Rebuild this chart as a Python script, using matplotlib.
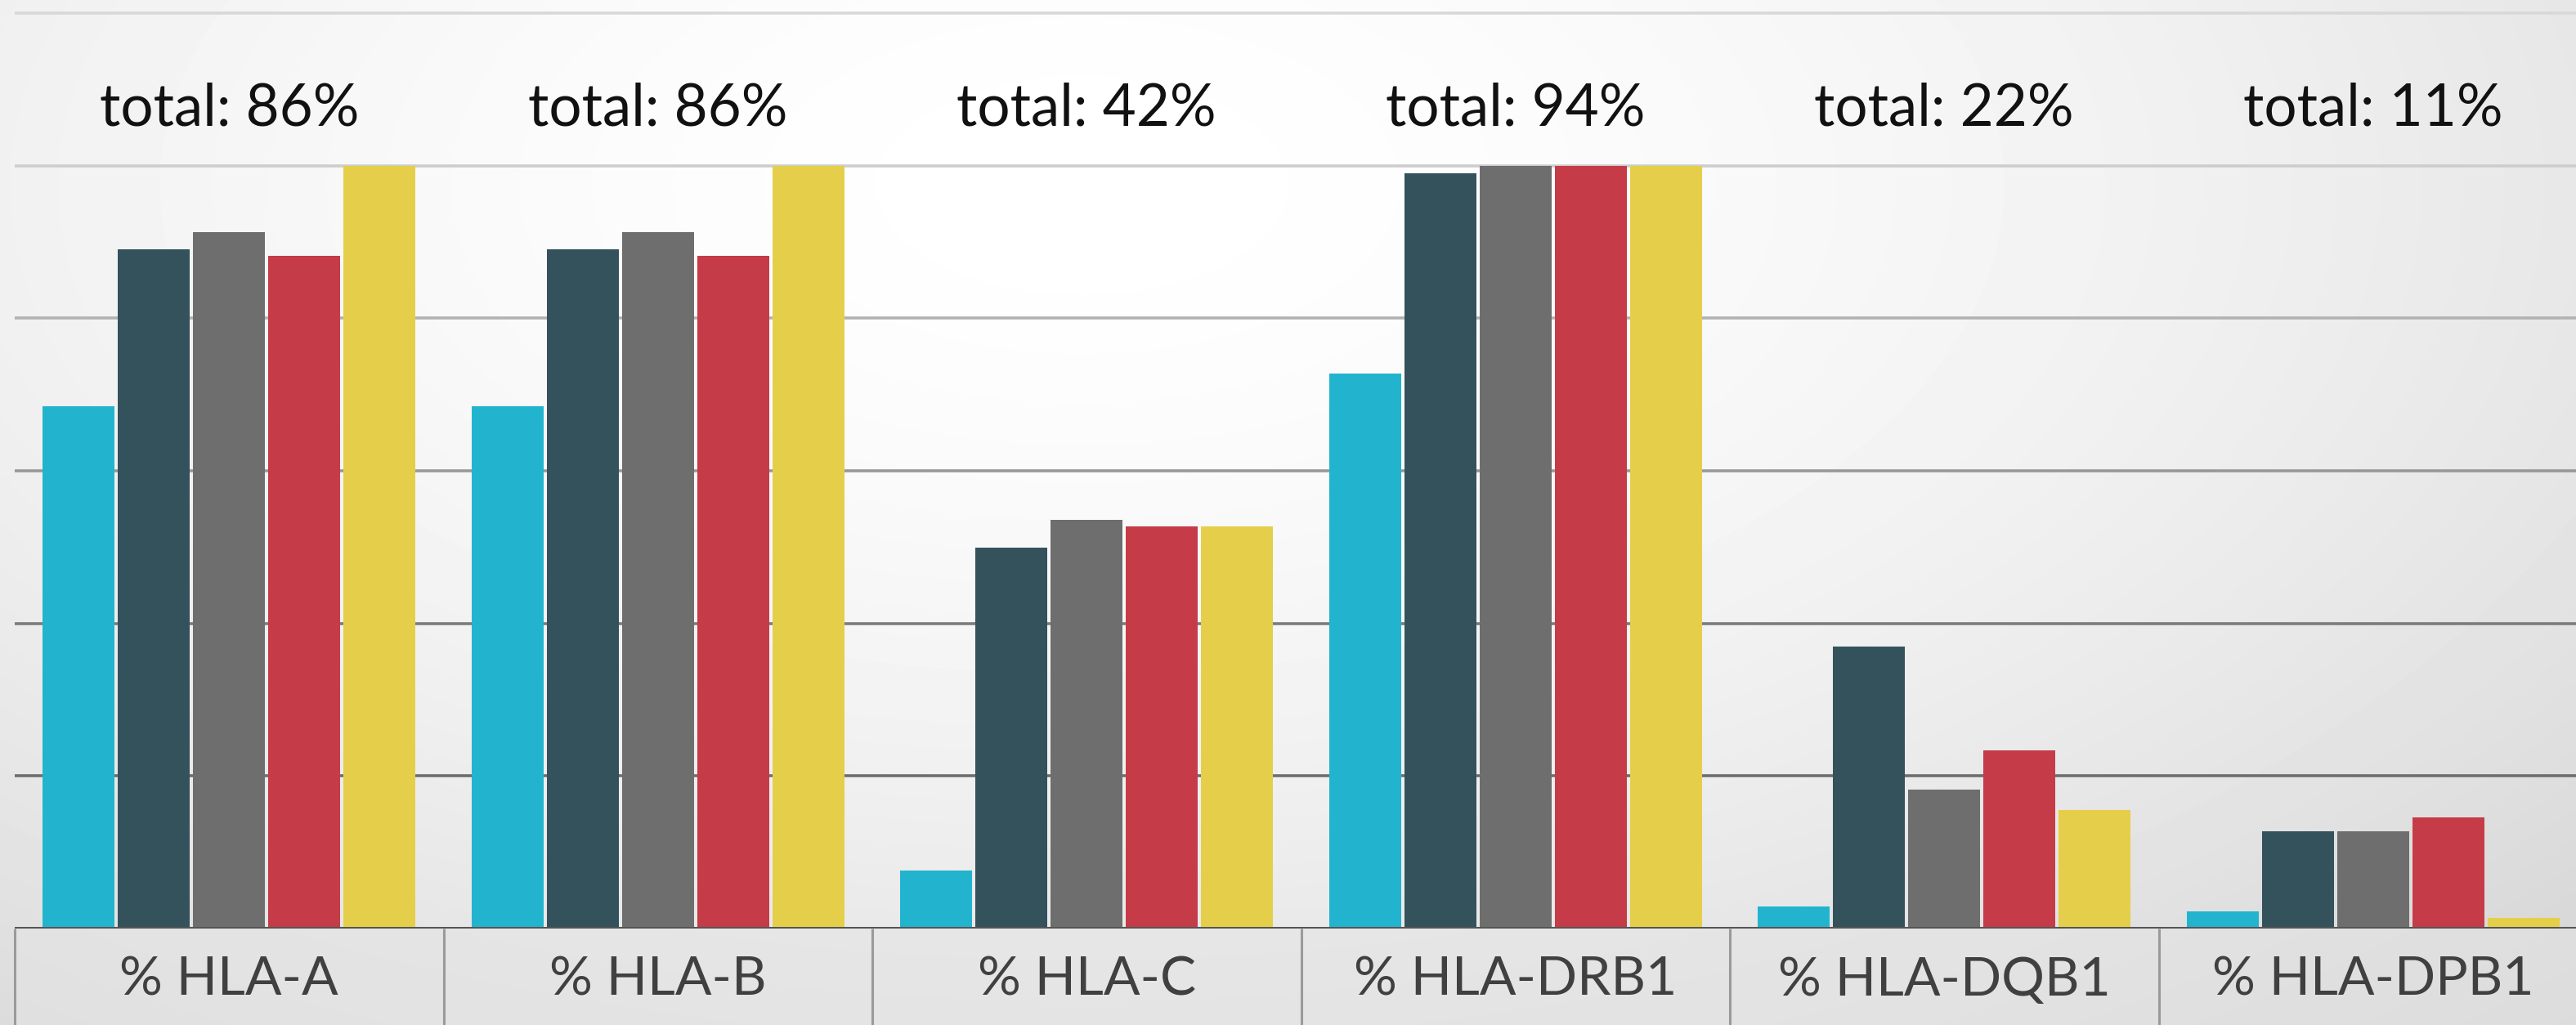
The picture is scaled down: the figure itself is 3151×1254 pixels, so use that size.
import numpy as np
import matplotlib
matplotlib.use("Agg")
import matplotlib.pyplot as plt
from matplotlib.patches import Rectangle

# ---- data ----
categories = ['% HLA-A', '% HLA-B', '% HLA-C', '% HLA-DRB1', '% HLA-DQB1', '% HLA-DPB1']
totals = ['total: 86%', 'total: 86%', 'total: 42%', 'total: 94%', 'total: 22%', 'total: 11%']
series_cyan = [68.5, 68.5, 7.6, 72.7, 2.9, 2.3]
series_dark = [89.0, 89.0, 49.9, 99.0, 37.0, 12.8]
series_grey = [91.3, 91.3, 53.6, 100.0, 18.2, 12.8]
series_red = [88.2, 88.2, 52.7, 100.0, 23.4, 14.6]
series_yellow = [100.0, 100.0, 52.7, 100.0, 15.5, 1.4]
grid_levels = [20, 40, 60, 80, 100, 120]

series = [series_cyan, series_dark, series_grey, series_red, series_yellow]
colors = ['#22b4cf', '#33525c', '#6e6e6e', '#c63b48', '#e5cf4a']

plt.rcParams['font.family'] = ['Lato', 'DejaVu Sans']

W, H = 3151, 1254
fig = plt.figure(figsize=(W / 100, H / 100), dpi=100)

# background radial gradient
bg = fig.add_axes([0, 0, 1, 1], zorder=0)
yy, xx = np.mgrid[0:1:300j, 0:1:700j]
r = np.sqrt(((xx - 0.42) / 0.75) ** 2 + ((yy - 0.18) / 1.0) ** 2)
v = 1.0 - 0.14 * np.clip(r, 0, 1.3) ** 1.6
bg.imshow(v, cmap='gray', vmin=0, vmax=1, aspect='auto', extent=[0, 1, 1, 0], interpolation='bilinear')
bg.set_axis_off()

# main axes geometry (pixels)
left_px = 18
base_px = 1136
top_grid_px = 16
cat_px = 524.5
ppu = (base_px - top_grid_px) / 120.0
ymax = 122
ax_left = left_px / W
ax_bottom = (H - base_px) / H
ax_height = ymax * ppu / H
xmax = -0.5 + (W - left_px) / cat_px
ax = fig.add_axes([ax_left, ax_bottom, 1 - ax_left, ax_height], zorder=1)
ax.patch.set_alpha(0)
ax.set_xlim(-0.5, xmax)
ax.set_ylim(0, ymax)
for s in ax.spines.values():
    s.set_visible(False)
ax.set_xticks([])
ax.set_yticks([])

grid_colors = {20: '#6e6e6e', 40: '#7c7c7c', 60: '#989898', 80: '#b2b2b2', 100: '#cdcdcd', 120: '#d8d8d8'}
for g in grid_levels:
    ax.axhline(g, color=grid_colors[g], lw=2.6, zorder=1)

x = np.arange(len(categories))
pitch = 0.1754
bw = pitch - 0.008
for i, (vals, c) in enumerate(zip(series, colors)):
    ax.bar(x + (i - 2) * pitch, vals, width=bw, color=c, zorder=3, linewidth=0)

for xi, t in zip(x, totals):
    ax.text(xi, 105.3, t, ha='center', va='baseline', fontsize=51, color='#111111', zorder=4)

# category table
tbl_depth = (H - base_px) / ppu
ax.add_patch(Rectangle((-0.5, -tbl_depth), len(categories), tbl_depth,
                       facecolor='#e4e4e4', alpha=0.55, edgecolor='none', clip_on=False, zorder=2))
for k in range(len(categories) + 1):
    ax.plot([k - 0.5, k - 0.5], [0, -tbl_depth], color='#9a9a9a', lw=2.2,
            clip_on=False, zorder=3, solid_capstyle='butt')
ax.axhline(0, color='#555555', lw=3.6, zorder=4)
for xi, c in zip(x, categories):
    ax.text(xi, -(1218 - base_px) / ppu, c, ha='center', va='baseline', fontsize=47.5,
            color='#404040', clip_on=False, zorder=5)

fig.savefig('out.png', dpi=100)
